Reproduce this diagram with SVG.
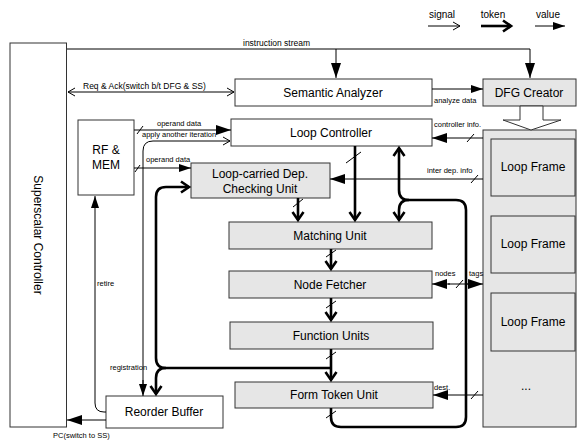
<svg xmlns="http://www.w3.org/2000/svg" width="578" height="441" viewBox="0 0 578 441">
<style>
text{font-family:"Liberation Sans",Arial,sans-serif;fill:#000}
.box{fill:#fff;stroke:#333;stroke-width:1}
.gbox{fill:#e6e6e6;stroke:#333;stroke-width:1}
.lbl{font-size:12px;text-anchor:middle}
.sm{font-size:7.5px}
.md{font-size:8.5px}
.thin{fill:none;stroke:#000;stroke-width:1}
.thick{fill:none;stroke:#000;stroke-width:2.6}
.tick{stroke:#000;stroke-width:1;fill:none}
</style>
<defs>
<marker id="sig" markerUnits="userSpaceOnUse" markerWidth="10" markerHeight="12" refX="8" refY="5" orient="auto-start-reverse" overflow="visible">
<path d="M1,1 L8,5 L1,9" fill="none" stroke="#000" stroke-width="1"/>
</marker>
<marker id="val" markerUnits="userSpaceOnUse" markerWidth="12" markerHeight="10" refX="12" refY="4" orient="auto" overflow="visible">
<path d="M0,0 L12,4 L0,8 Z" fill="#000"/>
</marker>
<marker id="valL" markerUnits="userSpaceOnUse" markerWidth="16" markerHeight="12" refX="15" refY="5" orient="auto" overflow="visible">
<path d="M0,0 L15,5 L0,10 Z" fill="#000"/>
</marker>
<marker id="tok" markerUnits="userSpaceOnUse" markerWidth="12" markerHeight="14" refX="9" refY="6" orient="auto" overflow="visible">
<path d="M1,0.5 L9,6 L1,11.5" fill="none" stroke="#000" stroke-width="2.6"/>
</marker>
</defs>

<!-- legend -->
<g id="legend">
<text x="442" y="18" font-size="10" text-anchor="middle">signal</text>
<line x1="428" y1="26" x2="460" y2="26" class="thin" marker-end="url(#sig)"/>
<text x="493" y="18" font-size="10" text-anchor="middle">token</text>
<line x1="481" y1="26" x2="511" y2="26" class="thick" marker-end="url(#tok)"/>
<text x="548" y="18" font-size="10" text-anchor="middle">value</text>
<line x1="535" y1="26" x2="565" y2="26" class="thin" stroke-width="1.5" marker-end="url(#val)"/>
</g>

<!-- nodes -->
<g id="superscalar">
<rect class="box" x="10" y="43" width="56.5" height="384"/>
<text class="lbl" transform="translate(34,235) rotate(90)">Superscalar Controller</text>
</g>
<g id="semantic">
<rect class="box" x="235" y="79" width="197" height="27"/>
<text class="lbl" x="333" y="97">Semantic Analyzer</text>
</g>
<g id="dfg">
<rect class="gbox" x="483" y="79" width="93" height="27"/>
<text class="lbl" x="529" y="97">DFG Creator</text>
</g>
<g id="loopctrl">
<rect class="box" x="231" y="119" width="201" height="27"/>
<text class="lbl" x="331" y="137">Loop Controller</text>
</g>
<g id="rfmem">
<rect class="box" x="78" y="120" width="56" height="75"/>
<text class="lbl" x="106" y="154">RF &amp;</text>
<text class="lbl" x="106" y="169">MEM</text>
</g>
<g id="loopcarried">
<rect class="gbox" x="191" y="163" width="139" height="35"/>
<text class="lbl" x="260" y="178">Loop-carried Dep.</text>
<text class="lbl" x="260" y="193">Checking Unit</text>
</g>
<g id="matching">
<rect class="gbox" x="229" y="222" width="203" height="27"/>
<text class="lbl" x="330" y="240">Matching Unit</text>
</g>
<g id="nodefetcher">
<rect class="gbox" x="229" y="271" width="203" height="27"/>
<text class="lbl" x="330" y="289">Node Fetcher</text>
</g>
<g id="funcunits">
<rect class="gbox" x="230" y="322" width="203" height="27"/>
<text class="lbl" x="331" y="340">Function Units</text>
</g>
<g id="formtoken">
<rect class="gbox" x="235" y="382" width="198" height="26"/>
<text class="lbl" x="334" y="399">Form Token Unit</text>
</g>
<g id="reorder">
<rect class="box" x="106" y="396" width="117" height="32"/>
<text class="lbl" x="164" y="416">Reorder Buffer</text>
</g>
<g id="loopframes">
<rect class="gbox" x="483" y="130" width="93" height="297"/>
<rect class="gbox" x="491" y="139" width="84" height="57"/>
<text class="lbl" x="533" y="171">Loop Frame</text>
<rect class="gbox" x="491" y="216" width="84" height="57"/>
<text class="lbl" x="533" y="248">Loop Frame</text>
<rect class="gbox" x="491" y="293" width="84" height="58"/>
<text class="lbl" x="533" y="326">Loop Frame</text>
<text class="lbl" x="526" y="390">...</text>
</g>
<g id="dfg-arrow">
<path d="M520,106 L543,106 L543,120 L561,120 L531,130 L503,120 L520,120 Z" fill="#fff" stroke="#333" stroke-width="1"/>
</g>

<!-- connectors -->
<g id="connectors">
<!-- instruction stream -->
<path class="thin" d="M67,49 L530,49 L530,78" stroke-width="1.5" marker-end="url(#valL)"/>
<line class="thin" x1="336" y1="49" x2="336" y2="78" stroke-width="1.5" marker-end="url(#valL)"/>
<text class="md" x="243" y="46">instruction stream</text>
<!-- req & ack -->
<line class="thin" x1="68" y1="92" x2="234" y2="92" marker-start="url(#sig)" marker-end="url(#sig)"/>
<text class="md" x="83" y="89">Req &amp; Ack(switch b/t DFG &amp; SS)</text>
<!-- analyze data -->
<line class="thin" x1="432" y1="89" x2="483" y2="89" marker-end="url(#val)"/>
<text class="sm" x="434" y="103">analyze data</text>
<!-- operand data to loop controller -->
<line class="thin" x1="134" y1="130" x2="231" y2="130" stroke-width="1.8" marker-end="url(#valL)"/>
<line class="tick" x1="137" y1="134" x2="143" y2="126"/>
<text class="sm" x="157" y="126">operand data</text>
<!-- apply another iteration / registration -->
<path class="thin" d="M143,394 L143,151 Q143,141 153,141 L230,141" stroke="#444" marker-end="url(#sig)"/>
<line class="thin" x1="143" y1="380" x2="143" y2="396" marker-end="url(#val)"/>
<text class="sm" x="142" y="137">apply another iteration</text>
<text class="sm" x="110" y="370">registration</text>
<!-- operand data to loop-carried -->
<line class="thin" x1="134" y1="168" x2="191" y2="168" marker-end="url(#val)"/>
<line class="tick" x1="135" y1="172" x2="140" y2="165"/>
<text class="sm" x="146" y="162">operand data</text>
<!-- retire -->
<path class="thin" d="M106,412 L104,412 Q95,412 95,403 L95,196" marker-end="url(#val)"/>
<text class="sm" x="97" y="286">retire</text>
<!-- PC -->
<line class="thin" x1="106" y1="420" x2="67" y2="420" stroke-width="1.5" marker-end="url(#valL)"/>
<text class="sm" x="53" y="438">PC(switch to SS)</text>
<!-- controller info -->
<line class="thin" x1="483" y1="138" x2="432" y2="138" stroke-width="1.5" marker-end="url(#valL)"/>
<line class="tick" x1="467" y1="142" x2="474" y2="134"/>
<text class="sm" x="434" y="127">controller info.</text>
<!-- inter dep info -->
<line class="thin" x1="483" y1="179" x2="330" y2="179" stroke-width="1.5" marker-end="url(#valL)"/>
<line class="tick" x1="471" y1="183" x2="478" y2="175"/>
<text class="sm" x="427" y="173">inter dep. info</text>
<!-- nodes / tags -->
<line class="thin" x1="448" y1="284" x2="470" y2="284" stroke-width="1.5"/>
<line class="thin" x1="450" y1="284" x2="432" y2="284" stroke-width="1.5" marker-end="url(#valL)"/>
<line class="thin" x1="466" y1="284" x2="483" y2="284" stroke-width="1.5" marker-end="url(#valL)"/>
<line class="tick" x1="456" y1="288" x2="463" y2="280"/>
<text class="sm" x="435" y="276">nodes</text>
<text class="sm" x="469" y="276">tags</text>
<!-- dest -->
<line class="thin" x1="483" y1="395" x2="433" y2="395" stroke-width="1.5" marker-end="url(#valL)"/>
<line class="tick" x1="471" y1="399" x2="478" y2="391"/>
<text class="sm" x="434" y="390">dest.</text>

<!-- tokens -->
<line class="thick" x1="298" y1="198" x2="298" y2="220" marker-end="url(#tok)"/>
<line class="tick" x1="293" y1="207" x2="303" y2="199"/>
<line class="thick" x1="355" y1="146" x2="355" y2="220" marker-end="url(#tok)"/>
<line class="tick" x1="346" y1="163" x2="361" y2="152"/>
<line class="thick" x1="331" y1="249" x2="331" y2="269" marker-end="url(#tok)"/>
<line class="tick" x1="326" y1="257" x2="336" y2="250"/>
<line class="thick" x1="331" y1="298" x2="331" y2="320" marker-end="url(#tok)"/>
<line class="tick" x1="326" y1="308" x2="336" y2="301"/>
<line class="thick" x1="331" y1="349" x2="331" y2="380" marker-end="url(#tok)"/>
<line class="tick" x1="326" y1="359" x2="336" y2="352"/>
<!-- function units to reorder / loop-carried -->
<path class="thick" d="M331,368 L166,368 Q156,368 156,358 L156,197 Q156,187 166,187 L189,187" marker-end="url(#tok)"/>
<path class="thick" d="M166,368 Q156,368 156,378 L156,394" marker-end="url(#tok)"/>
<!-- form token loop back -->
<path class="thick" d="M331,408 L331,417 Q331,427 341,427 L456,427 Q466,427 466,417 L466,210 Q466,200 456,200 L409,200 Q399,200 399,190 L399,148" marker-end="url(#tok)"/>
<path class="thick" d="M409,200 Q399,200 399,210 L399,220" marker-end="url(#tok)"/>
<line class="tick" x1="326" y1="418" x2="336" y2="411"/>
</g>
</svg>
